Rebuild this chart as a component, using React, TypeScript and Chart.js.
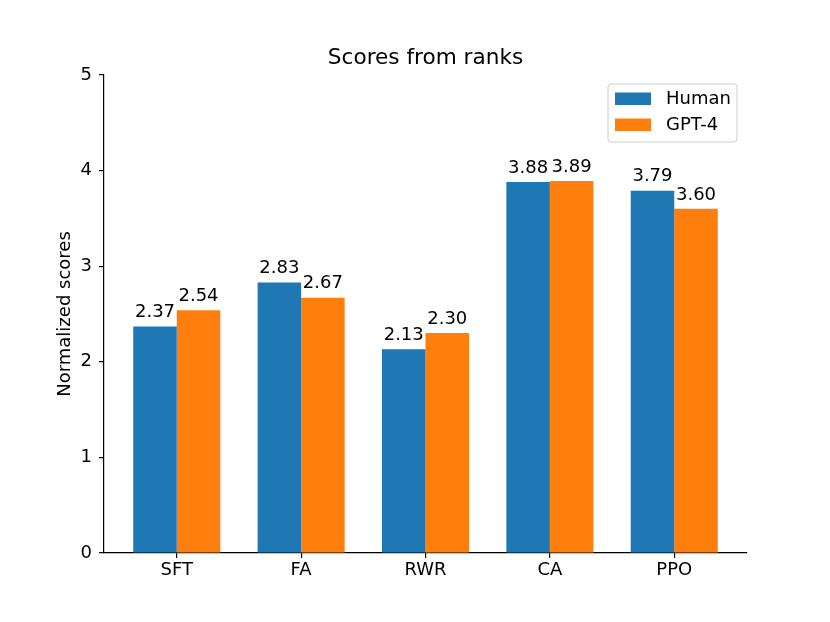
import { useEffect, useRef } from 'react';
import Chart from 'chart.js/auto';

const categories = ['SFT', 'FA', 'RWR', 'CA', 'PPO'];
const humanScores = [2.37, 2.83, 2.13, 3.88, 3.79];
const gpt4Scores = [2.54, 2.67, 2.3, 3.89, 3.6];
const yTicks = [0, 1, 2, 3, 4, 5];

const FONT = '"DejaVu Sans", sans-serif';
const BLUE = '#1f77b4';
const ORANGE = '#ff7f0e';

// bar labels, title, y label and the boxed legend, drawn the matplotlib way
const decorations = {
  id: 'decorations',
  afterDatasetsDraw(chart: any) {
    const { ctx, chartArea } = chart;
    ctx.save();
    ctx.fillStyle = '#000';
    ctx.font = `18px ${FONT}`;
    ctx.textAlign = 'center';
    ctx.textBaseline = 'bottom';
    chart.data.datasets.forEach((ds: any, di: number) => {
      chart.getDatasetMeta(di).data.forEach((bar: any, i: number) => {
        ctx.fillText(ds.data[i].y.toFixed(2), bar.x, bar.y - 5);
      });
    });

    ctx.font = `21.6px ${FONT}`;
    ctx.textBaseline = 'alphabetic';
    ctx.fillText('Scores from ranks', (chartArea.left + chartArea.right) / 2, chartArea.top - 11);

    ctx.save();
    ctx.translate(70, (chartArea.top + chartArea.bottom) / 2);
    ctx.rotate(-Math.PI / 2);
    ctx.font = `18px ${FONT}`;
    ctx.textBaseline = 'alphabetic';
    ctx.fillText('Normalized scores', 0, 0);
    ctx.restore();

    // legend box
    const bx = chartArea.right - 139;
    const by = chartArea.top + 9;
    const bw = 129;
    const bh = 58;
    ctx.beginPath();
    ctx.roundRect(bx, by, bw, bh, 3);
    ctx.fillStyle = 'rgba(255,255,255,0.8)';
    ctx.fill();
    ctx.strokeStyle = '#cccccc';
    ctx.lineWidth = 1;
    ctx.stroke();
    ctx.textAlign = 'left';
    ctx.textBaseline = 'middle';
    ctx.font = `18px ${FONT}`;
    chart.data.datasets.forEach((ds: any, di: number) => {
      const y = by + 14.5 + di * 26;
      ctx.fillStyle = ds.backgroundColor;
      ctx.fillRect(bx + 7, y - 6, 36, 12.5);
      ctx.fillStyle = '#000';
      ctx.fillText(ds.label, bx + 58, y + 1);
    });
    ctx.restore();
  }
};

export default function App() {
  const ref = useRef<HTMLCanvasElement | null>(null);

  useEffect(() => {
    document.body.style.margin = '0';
    if (!ref.current) return;
    const chart = new Chart(ref.current, {
      type: 'bar',
      data: {
        datasets: [
          {
            label: 'Human',
            data: humanScores.map((v, i) => ({ x: i, y: v })),
            backgroundColor: BLUE
          },
          {
            label: 'GPT-4',
            data: gpt4Scores.map((v, i) => ({ x: i, y: v })),
            backgroundColor: ORANGE
          }
        ]
      },
      options: {
        responsive: true,
        maintainAspectRatio: false,
        animation: false,
        datasets: { bar: { categoryPercentage: 0.7, barPercentage: 1.0 } },
        layout: { padding: { left: 0, right: 83, top: 75, bottom: 0 } },
        plugins: {
          legend: { display: false },
          title: { display: false },
          tooltip: { enabled: false }
        },
        scales: {
          x: {
            type: 'linear',
            offset: false,
            min: -0.585,
            max: categories.length - 1 + 0.585,
            afterBuildTicks: (scale: any) => {
              scale.ticks = categories.map((_, i) => ({ value: i }));
            },
            afterFit: (scale: any) => {
              scale.height = 69;
            },
            ticks: {
              color: '#000',
              font: { family: FONT, size: 18 },
              padding: 2,
              autoSkip: false,
              maxRotation: 0,
              callback: (v: any) => categories[v] ?? ''
            },
            grid: { offset: false, drawOnChartArea: false, drawTicks: true, tickLength: 5, color: '#000', lineWidth: 1.2 },
            border: { display: true, color: '#000', width: 1.2 }
          },
          y: {
            min: 0,
            max: 5,
            afterBuildTicks: (scale: any) => {
              scale.ticks = yTicks.map((v) => ({ value: v }));
            },
            afterFit: (scale: any) => {
              scale.width = 104;
            },
            ticks: {
              color: '#000',
              font: { family: FONT, size: 18 },
              padding: 7
            },
            grid: { drawOnChartArea: false, drawTicks: true, tickLength: 5, color: '#000', lineWidth: 1.2 },
            border: { display: true, color: '#000', width: 1.2 }
          }
        }
      },
      plugins: [decorations]
    });
    return () => chart.destroy();
  }, []);

  return (
    <div style={{ width: 830, height: 622, position: 'relative', background: '#fff' }}>
      <canvas ref={ref} aria-label="Scores from ranks bar chart" />
    </div>
  );
}
